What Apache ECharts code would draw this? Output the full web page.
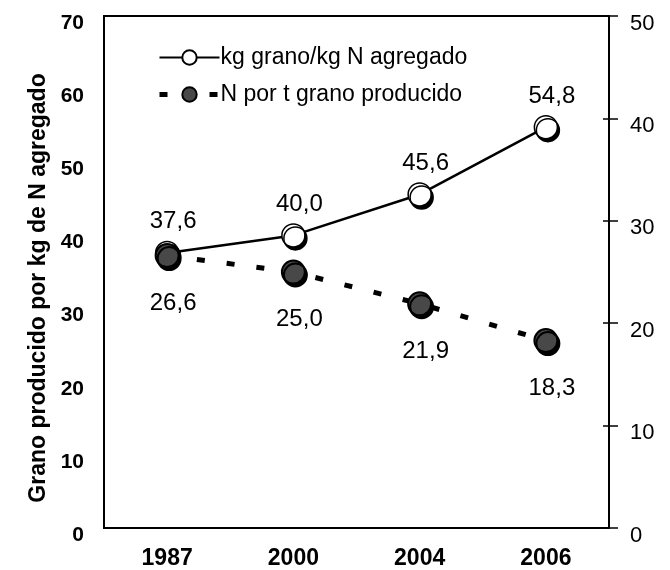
<!DOCTYPE html>
<html>
<head>
<meta charset="utf-8">
<script src="https://cdn.jsdelivr.net/npm/echarts@6/dist/echarts.min.js"></script>
<style>
  html, body { margin: 0; padding: 0; background: #fff; }
  #main { width: 670px; height: 570px; }
</style>
</head>
<body>
<div id="main"></div>
<script>
// chart data
const years = ['1987', '2000', '2004', '2006'];
const grainPerN = [37.6, 40.0, 45.6, 54.8];   // left axis
const nPerTonne = [26.6, 25.0, 21.9, 18.3];   // right axis
const leftTicks = { min: 0, max: 70, interval: 10 };
const rightTicks = { min: 0, max: 50, interval: 10 };

const FONT = "'Liberation Sans', Arial, sans-serif";

let myChart = echarts.init(document.getElementById('main'));

function commaFmt(p) {
    return p.value.toFixed(1).replace('.', ',');
}

let option = {
    backgroundColor: '#fff',
    animation: false,
    textStyle: { fontFamily: FONT, color: '#000' },
    grid: {
        left: 104, right: 61, top: 16, bottom: 42,
        show: true, borderColor: '#000', borderWidth: 2
    },
    legend: {
        orient: 'vertical',
        left: 152, top: 41,
        itemWidth: 60, itemHeight: 18, itemGap: 14,
        textStyle: { fontSize: 23, fontFamily: FONT, color: '#000', padding: [0, 0, 0, -4] },
        data: [
            { name: 'kg grano/kg N agregado' },
            { name: 'N por t grano producido', lineStyle: { type: [8, 17], width: 5 } }
        ]
    },
    xAxis: {
        type: 'category',
        data: years,
        axisLine: { lineStyle: { color: '#000', width: 2 } },
        axisTick: { length: 8, lineStyle: { color: '#000', width: 2 } },
        axisLabel: { fontSize: 23, fontWeight: 'bold', color: '#000', margin: 19, fontFamily: FONT },
        splitLine: { show: false }
    },
    yAxis: [
        {
            type: 'value',
            position: 'left',
            min: leftTicks.min, max: leftTicks.max, interval: leftTicks.interval,
            name: 'Grano producido por kg de N agregado',
            nameLocation: 'middle',
            nameGap: 53,
            nameTextStyle: { fontSize: 23, fontWeight: 'bold', color: '#000', fontFamily: FONT, padding: [0, 32, 0, 0] },
            axisLine: { show: true, lineStyle: { color: '#000', width: 2 } },
            axisTick: { show: false },
            axisLabel: {
                fontSize: 21, fontWeight: 'bold', color: '#000', margin: 20,
                verticalAlign: 'top', lineHeight: 14, fontFamily: FONT
            },
            splitLine: { show: false }
        },
        {
            type: 'value',
            position: 'right',
            min: rightTicks.min, max: rightTicks.max, interval: rightTicks.interval,
            axisLine: { show: true, lineStyle: { color: '#000', width: 2 } },
            axisTick: { show: true, length: 9, lineStyle: { color: '#000', width: 1.5 } },
            axisLabel: {
                fontSize: 22, color: '#000', margin: 21,
                verticalAlign: 'top', lineHeight: 15, fontFamily: FONT
            },
            splitLine: { show: false }
        },
        {
            // inner half of the crossing ticks on the right axis
            type: 'value',
            position: 'right',
            min: rightTicks.min, max: rightTicks.max, interval: rightTicks.interval,
            axisLine: { show: false },
            axisTick: { show: true, inside: true, length: 6, lineStyle: { color: '#000', width: 1.5 } },
            axisLabel: { show: false },
            splitLine: { show: false }
        }
    ],
    series: [
        {
            name: 'kg grano/kg N agregado',
            type: 'line',
            yAxisIndex: 0,
            data: grainPerN,
            symbol: 'circle',
            symbolSize: 23,
            lineStyle: { color: '#000', width: 2.5 },
            itemStyle: {
                color: '#fff', borderColor: '#000', borderWidth: 1.5,
                shadowColor: '#000', shadowBlur: 0, shadowOffsetX: 2, shadowOffsetY: 3
            },
            label: {
                show: true, position: 'top', distance: 7, offset: [6, 0],
                fontSize: 24, color: '#000', fontFamily: FONT,
                formatter: commaFmt
            }
        },
        {
            name: 'N por t grano producido',
            type: 'line',
            yAxisIndex: 1,
            data: nPerTonne,
            symbol: 'circle',
            symbolSize: 23,
            lineStyle: { color: '#000', width: 5, type: [8, 22] },
            itemStyle: {
                color: '#484848', borderColor: '#000', borderWidth: 2,
                shadowColor: '#000', shadowBlur: 0, shadowOffsetX: 2, shadowOffsetY: 3
            },
            label: {
                show: true, position: 'bottom', distance: 23, offset: [6, 0],
                fontSize: 24, color: '#000', fontFamily: FONT,
                formatter: commaFmt
            }
        }
    ]
};
myChart.setOption(option);
</script>
</body>
</html>
